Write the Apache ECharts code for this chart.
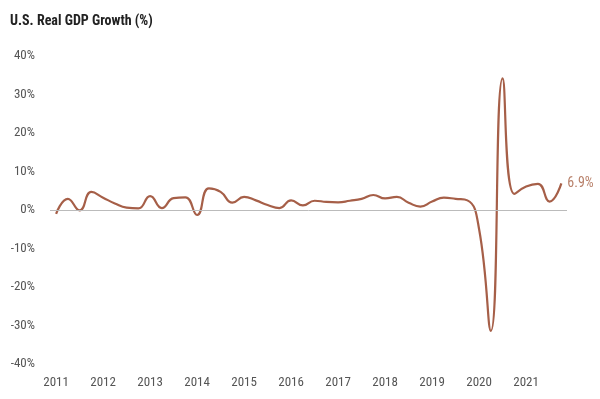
<!DOCTYPE html>
<html>
<head>
<meta charset="utf-8">
<script src="https://cdn.jsdelivr.net/npm/echarts@6/dist/echarts.min.js"></script>
<style>
  html, body { margin: 0; padding: 0; background: #fff; }
  #chart { width: 600px; height: 399px; }
</style>
</head>
<body>
<div id="chart"></div>
<script>
// quarterly annualised real GDP growth, 2011 Q1 .. 2021 Q4
var years = [2011, 2012, 2013, 2014, 2015, 2016, 2017, 2018, 2019, 2020, 2021];
var growth = [
  -1.0, 2.9, -0.1, 4.7,
  3.2, 1.7, 0.6, 0.4,
  3.6, 0.5, 3.1, 3.3,
  -1.3, 5.6, 4.7, 1.9,
  3.4, 2.5, 1.3, 0.5,
  2.5, 1.2, 2.4, 2.1,
  2.0, 2.4, 2.9, 3.9,
  3.0, 3.4, 1.9, 0.9,
  2.2, 3.2, 2.9, 2.5,
  -5.0, -31.4, 34.2, 4.2,
  6.1, 6.8, 2.2, 6.9
];
var yTicks = [-40, -30, -20, -10, 0, 10, 20, 30, 40];

var font = "'Roboto Condensed', 'Liberation Sans Narrow', 'DejaVu Sans Condensed', Roboto, sans-serif";

var points = [];
for (var i = 0; i < growth.length; i++) {
  points.push([years[0] + i / 4, growth[i]]);
}

var chart = echarts.init(document.getElementById('chart'));
chart.setOption({
  animation: false,
  title: {
    text: 'U.S. Real GDP Growth (%)',
    left: 5,
    top: 9,
    textStyle: { fontFamily: font, fontSize: 14, fontWeight: 'bold', color: '#222' }
  },
  grid: { left: 50, right: 33, top: 56, bottom: 35 },
  xAxis: {
    type: 'value',
    min: 2010.87,
    max: 2021.87,
    axisLine: { show: false },
    axisTick: { show: false },
    splitLine: { show: false },
    axisLabel: {
      customValues: years,
      formatter: function (v) { return String(v); },
      margin: 12,
      fontFamily: font,
      fontSize: 13,
      color: '#555'
    }
  },
  yAxis: {
    type: 'value',
    min: yTicks[0],
    max: yTicks[yTicks.length - 1],
    interval: 10,
    axisLine: { show: false },
    axisTick: { show: false },
    splitLine: { show: false },
    axisLabel: {
      formatter: '{value}%',
      margin: 15,
      fontFamily: font,
      fontSize: 13,
      color: '#555'
    }
  },
  series: [{
    type: 'line',
    data: points,
    smooth: true,
    symbol: 'none',
    lineStyle: { color: '#a65f48', width: 2.2 },
    endLabel: {
      show: true,
      distance: 6,
      formatter: function (p) { return p.value[1].toFixed(1) + '%'; },
      fontFamily: font,
      fontSize: 14,
      color: '#b8806a'
    },
    markLine: {
      silent: true,
      symbol: 'none',
      label: { show: false },
      lineStyle: { color: '#bbb', type: 'solid', width: 1 },
      data: [{ yAxis: 0 }]
    },
    z: 3
  }]
});
</script>
</body>
</html>
